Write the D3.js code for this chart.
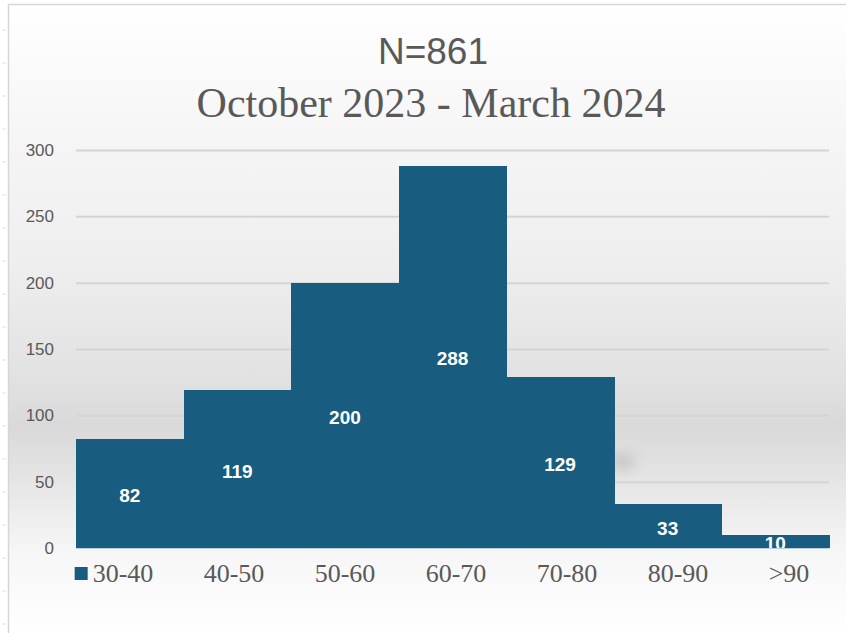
<!DOCTYPE html>
<html>
<head>
<meta charset="utf-8">
<script src="https://cdn.jsdelivr.net/npm/d3@7"></script>
<style>
  html, body { margin: 0; padding: 0; background: #ffffff; }
  svg { display: block; }
</style>
</head>
<body>
<svg id="chart" width="846" height="633"></svg>
<script>
// ---- data ----
const categories = ["30-40", "40-50", "50-60", "60-70", "70-80", "80-90", ">90"];
const counts = [82, 119, 200, 288, 129, 33, 10];
const yTicks = [0, 50, 100, 150, 200, 250, 300];
const titleLines = ["N=861", "October 2023 - March 2024"];

// ---- layout ----
const W = 846, H = 633;
const plot = { left: 76, right: 829, top: 150, bottom: 548 };
const barColor = "#185d80";
const textGray = "#595959";

const svg = d3.select("#chart");
const defs = svg.append("defs");

// background gradient
const grad = defs.append("linearGradient")
  .attr("id", "bg").attr("x1", 0).attr("y1", 0).attr("x2", 0).attr("y2", 1);
[[0, "#ffffff"], [0.2, "#f6f6f6"], [0.42, "#eeeeee"], [0.6, "#e1e1e1"], [0.67, "#d9d9d9"],
 [0.75, "#e4e4e4"], [0.87, "#f6f6f6"], [1, "#ffffff"]]
  .forEach(([o, c]) => grad.append("stop").attr("offset", o).attr("stop-color", c));

const blur = defs.append("filter").attr("id", "blur")
  .attr("x", "-100%").attr("y", "-100%").attr("width", "300%").attr("height", "300%");
blur.append("feGaussianBlur").attr("stdDeviation", 7);

defs.append("clipPath").attr("id", "plotClip")
  .append("rect")
  .attr("x", plot.left).attr("y", plot.top - 30)
  .attr("width", plot.right - plot.left).attr("height", plot.bottom - plot.top + 30);

svg.append("rect").attr("x", 0).attr("y", 0).attr("width", W).attr("height", H).attr("fill", "#ffffff");
svg.append("rect").attr("x", 9).attr("y", 5).attr("width", W - 9).attr("height", H - 5).attr("fill", "url(#bg)");

// frame lines
svg.append("line").attr("x1", 8).attr("x2", W).attr("y1", 4.5).attr("y2", 4.5)
  .attr("stroke", "#d6d6d6").attr("stroke-width", 1.5);
svg.append("line").attr("x1", 8.5).attr("x2", 8.5).attr("y1", 4).attr("y2", H)
  .attr("stroke", "#d6d6d6").attr("stroke-width", 1.5);
// faint sheet marks at far left
d3.range(30, H, 33).forEach(yy => {
  svg.append("line").attr("x1", 2).attr("x2", 6).attr("y1", yy).attr("y2", yy)
    .attr("stroke", "#e2e2e2").attr("stroke-width", 1);
});

// soft shadow blob
svg.append("ellipse").attr("cx", 622).attr("cy", 462).attr("rx", 13).attr("ry", 7)
  .attr("fill", "#9a9a9a").attr("opacity", 0.45).attr("filter", "url(#blur)");

// ---- scales ----
const x = d3.scaleBand().domain(categories).range([plot.left, plot.right]).paddingInner(0).paddingOuter(0);
const y = d3.scaleLinear().domain([0, 300]).range([plot.bottom, plot.top]);

// gridlines
const grid = svg.append("g").attr("class", "grid")
  .call(d3.axisLeft(y).tickValues(yTicks.filter(t => t > 0)).tickSize(-(plot.right - plot.left)).tickFormat(""))
  .attr("transform", `translate(${plot.left},0)`);
grid.select(".domain").remove();
grid.selectAll("line").attr("stroke", "#d4d4d4").attr("stroke-width", 2);

// y axis labels
const yAxis = svg.append("g")
  .attr("transform", `translate(${plot.left},0)`)
  .call(d3.axisLeft(y).tickValues(yTicks).tickSize(0).tickPadding(22));
yAxis.select(".domain").remove();
yAxis.selectAll("text")
  .attr("fill", textGray)
  .style("font-family", "'Liberation Sans', Arial, sans-serif")
  .style("font-size", "17px");

// bars
svg.append("g").attr("shape-rendering", "crispEdges").selectAll("rect")
  .data(counts)
  .join("rect")
  .attr("x", (d, i) => Math.round(x(categories[i])))
  .attr("y", d => Math.round(y(d)))
  .attr("width", (d, i) => Math.round(x(categories[i]) + x.bandwidth()) - Math.round(x(categories[i])) + 1)
  .attr("height", d => Math.round(y(0)) - Math.round(y(d)))
  .attr("fill", barColor);

// axis base line
svg.append("line").attr("x1", plot.left).attr("x2", plot.right)
  .attr("y1", y(0) + 0.5).attr("y2", y(0) + 0.5)
  .attr("stroke", "#bcd0dc").attr("stroke-width", 1);

// data labels (centered, clipped to plot area)
svg.append("g").attr("clip-path", "url(#plotClip)")
  .selectAll("text")
  .data(counts)
  .join("text")
  .attr("x", (d, i) => x(categories[i]) + x.bandwidth() / 2)
  .attr("y", d => (y(d) + y(0)) / 2 + 2)
  .attr("text-anchor", "middle")
  .attr("dominant-baseline", "central")
  .attr("fill", "#ffffff")
  .style("font-family", "'Liberation Sans', Arial, sans-serif")
  .style("font-weight", "bold")
  .style("font-size", "19px")
  .text(d => d);

// category labels row (legend-style spacing)
const lx = d3.scalePoint().domain(categories).range([123, 789]);
const catText = svg.append("g").selectAll("text")
  .data(categories)
  .join("text")
  .attr("x", d => lx(d))
  .attr("y", 582)
  .attr("text-anchor", "middle")
  .attr("fill", textGray)
  .style("font-family", "'Liberation Serif', 'Times New Roman', serif")
  .style("font-size", "26px")
  .text(d => d);

// legend key before first label
const firstNode = catText.nodes()[0];
const firstW = firstNode.getComputedTextLength();
svg.append("rect")
  .attr("x", lx(categories[0]) - firstW / 2 - 18)
  .attr("y", 567)
  .attr("width", 13).attr("height", 13)
  .attr("fill", barColor);

// titles
svg.append("text")
  .attr("x", 433).attr("y", 64)
  .attr("text-anchor", "middle")
  .attr("fill", textGray)
  .style("font-family", "'Liberation Sans', Arial, sans-serif")
  .style("font-size", "37px")
  .text(titleLines[0]);
svg.append("text")
  .attr("x", 431).attr("y", 117)
  .attr("text-anchor", "middle")
  .attr("fill", textGray)
  .style("font-family", "'Liberation Serif', 'Times New Roman', serif")
  .style("font-size", "42px")
  .text(titleLines[1]);
</script>
</body>
</html>
